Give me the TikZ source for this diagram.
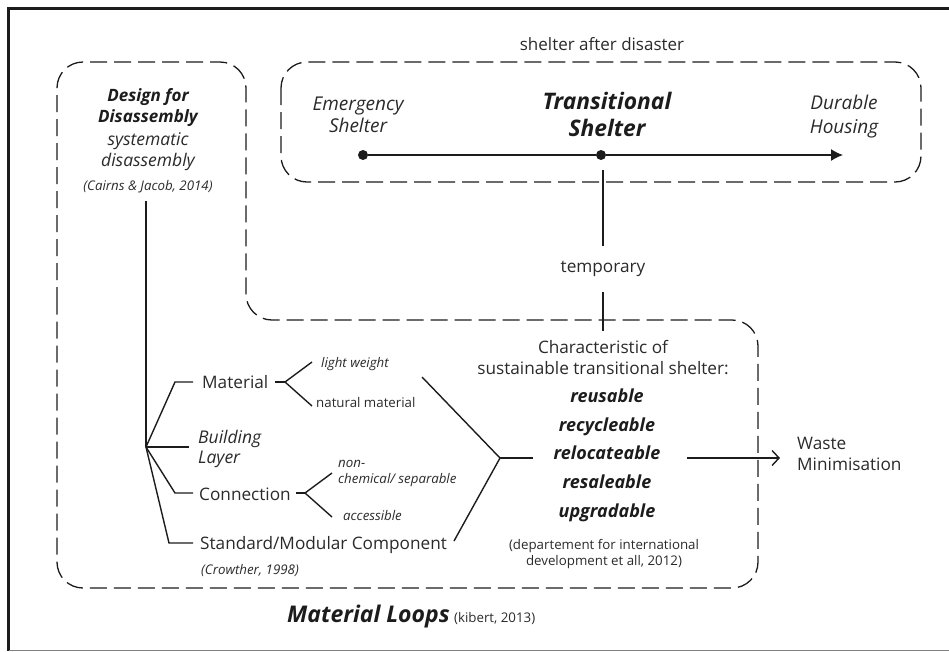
\documentclass[tikz,border=0pt]{standalone}
\usepackage{fontspec}
\setmainfont{Open Sans}
\usetikzlibrary{arrows.meta}
\definecolor{ink}{HTML}{1C1C1C}
\definecolor{tx}{HTML}{2A2A2A}
\begin{document}
\begin{tikzpicture}[x=1pt,y=-1pt,
  t/.style={inner sep=0pt, text=tx, anchor=base},
  tl/.style={inner sep=0pt, text=tx, anchor=base west, align=left},
  tc/.style={inner sep=0pt, text=tx, anchor=base, align=center},
  dashbox/.style={draw=ink, line width=1.3pt, dash pattern=on 17pt off 7pt, rounded corners=26pt},
  ln/.style={draw=ink, line width=1.4pt},
  dot/.style={circle, fill=ink, inner sep=0pt, minimum size=10pt},
  fA/.style={font=\fontsize{17.2}{21}\selectfont},
  fI/.style={font=\fontsize{19}{22.5}\selectfont\itshape},
  fS/.style={font=\fontsize{13.3}{16}\selectfont},
  fSI/.style={font=\fontsize{13.3}{16}\selectfont\itshape},
  fB/.style={font=\fontsize{18}{21}\selectfont\bfseries\itshape},
]
\useasboundingbox (0,0) rectangle (949,651);
% frame
\draw[line width=3pt, draw=ink] (8.5,651) -- (8.5,8.5) -- (949,8.5);
\draw[line width=1pt, draw=gray] (8.5,650) -- (949,650);

% dashed regions
\draw[dashbox] (57,330) -- (57,62) -- (246,62) -- (246,320) -- (758,320) -- (758,588) -- (57,588) -- cycle;
\draw[dashbox] (281,62) rectangle (921,182);

% shelter after disaster
\node[t, font=\fontsize{17}{20}\selectfont] (sad) at (602,50) {shelter after disaster};
\node[tc, font=\fontsize{19}{22}\selectfont\itshape] (esl) at (358,132) {Emergency\\Shelter};
\node[tc, font=\fontsize{22.8}{27}\selectfont\bfseries\itshape, text=ink] (tsl) at (607,136) {Transitional\\Shelter};
\node[tc, font=\fontsize{19}{24}\selectfont\itshape] (dhl) at (844,133) {Durable\\Housing};

\node[dot] (es) at (363,155) {};
\node[dot] (ts) at (601,155) {};
\coordinate (dh) at (843,155);
\draw[ln] (es) -- (ts);
\draw[ln, -{Latex[length=12pt,width=12pt]}] (ts) -- (dh);

% temporary
\node[t, fA, minimum height=46pt, anchor=center] (tmp) at (603,269) {temporary};
\coordinate (tstop) at (603,170);
\coordinate (chtop) at (603,331);
\draw[ln] (tstop) -- (tmp.north);
\draw[ln] (tmp.south) -- (chtop);

% design for disassembly
\node[tc, font=\fontsize{17}{21}\selectfont\bfseries\itshape, text=ink] (dfd) at (148,122) {Design for\\Disassembly};
\node[tc, font=\fontsize{17.5}{20.5}\selectfont\itshape] (sys) at (148,166) {systematic\\disassembly};
\node[t, fSI] (cj) at (148,190) {(Cairns \& Jacob, 2014)};

\coordinate (vtop) at (146,201);
\coordinate (br) at (146,447);
\draw[ln] (vtop) -- (br);

% branches
\node[tl, fA] (mat) at (202,388) {Material};
\node[tl, font=\fontsize{17.5}{20}\selectfont\itshape] (bl) at (198,463) {Building\\Layer};
\node[tl, fA] (con) at (199,500) {Connection};
\node[tl, fA] (smc) at (200,549) {Standard/Modular Component};
\node[tl, fSI] (cro) at (201,574) {(Crowther, 1998)};

\draw[ln] (br) -- (175,382) -- (193,382);
\draw[ln] (br) -- (189,447);
\draw[ln] (br) -- (175,493) -- (193,493);
\draw[ln] (br) -- (169,543) -- (193,543);

% material sub-branches
\node[tl, fSI] (lw) at (321,367) {light weight};
\node[tl, fS] (nm) at (316,407) {natural material};
\coordinate (mb) at (285,382);
\draw[ln] (275,382) -- (mb);
\draw[ln] (312,362) -- (mb) -- (312,406);

% connection sub-branches
\node[tl, font=\fontsize{13.3}{16}\selectfont\itshape] (nc) at (338,483) {non-\\chemical/ separable};
\node[tl, fSI] (acc) at (343,520) {accessible};
\coordinate (cb) at (305,493);
\draw[ln] (296,493) -- (cb);
\draw[ln] (332,473) -- (cb) -- (332,517);

% characteristic
\node[tc, fA] (char) at (603,374) {Characteristic of\\sustainable transitional shelter:};
\node[t, fB, text=ink] (r1) at (607,402) {reusable};
\node[t, fB, text=ink] (r2) at (607,431) {recycleable};
\node[t, fB, text=ink] (r3) at (607,459) {relocateable};
\node[t, fB, text=ink] (r4) at (607,488) {resaleable};
\node[t, fB, text=ink] (r5) at (607,517) {upgradable};
\node[tc, font=\fontsize{13.3}{16}\selectfont] (dfi) at (604,565) {(departement for international\\development et all, 2012)};

% converge
\coordinate (conv) at (500,458);
\draw[ln] (422,377) -- (conv) -- (454,541);
\draw[ln] (conv) -- (533,458);

% waste
\node[tl, fA] (wm) at (797,470) {Waste\\Minimisation};
\coordinate (a0) at (687,458);
\coordinate (a1) at (780,458);
\draw[ln, -{Straight Barb[length=7pt,width=15pt,line width=1.4pt]}] (a0) -- (a1);

% material loops
\node[tl, font=\fontsize{23}{27}\selectfont\bfseries\itshape, text=ink] (ml) at (287,622) {Material Loops};
\node[tl, fS] (kib) at ([xshift=4pt]ml.base east) {(kibert, 2013)};
\end{tikzpicture}
\end{document}
